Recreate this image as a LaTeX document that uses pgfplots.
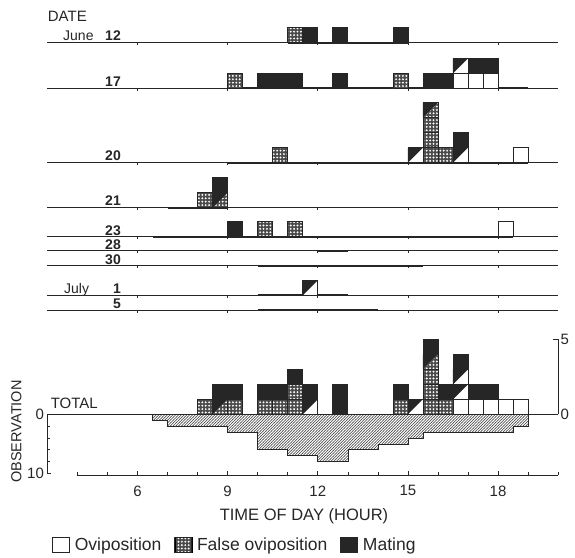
\documentclass[border=0pt]{standalone}
\usepackage{pgfplots}
\pgfplotsset{compat=1.18}
\usepackage{fontspec}
\setmainfont{Liberation Sans}
\usetikzlibrary{patterns}
\definecolor{ink}{HTML}{262626}
\definecolor{dgray}{HTML}{4a4a4a}

\pgfdeclarepatternformonly{cdots}{\pgfqpoint{-1pt}{-1pt}}{\pgfqpoint{4.4pt}{4.4pt}}{\pgfqpoint{3.4pt}{3.4pt}}{%
  \pgfpathcircle{\pgfqpoint{1.7pt}{1.7pt}}{1.05pt}\pgfusepath{fill}}
\pgfdeclarepatternformonly{hatchd}{\pgfqpoint{-0.5pt}{-0.5pt}}{\pgfqpoint{3.3pt}{3.3pt}}{\pgfqpoint{2.8pt}{2.8pt}}{%
  \pgfsetlinewidth{0.55pt}\pgfpathmoveto{\pgfqpoint{-0.2pt}{-0.2pt}}\pgfpathlineto{\pgfqpoint{3pt}{3pt}}\pgfusepath{stroke}}

\newcommand\cellbox{\pgfpathrectangle{\pgfqpoint{-7.5pt}{-7.5pt}}{\pgfqpoint{15pt}{15pt}}}
\newcommand\trilr{\pgfpathmoveto{\pgfqpoint{-7.5pt}{-7.5pt}}\pgfpathlineto{\pgfqpoint{7.5pt}{-7.5pt}}\pgfpathlineto{\pgfqpoint{7.5pt}{7.5pt}}\pgfpathclose}
\newcommand\triul{\pgfpathmoveto{\pgfqpoint{-7.5pt}{-7.5pt}}\pgfpathlineto{\pgfqpoint{-7.5pt}{7.5pt}}\pgfpathlineto{\pgfqpoint{7.5pt}{7.5pt}}\pgfpathclose}
\newcommand\celldots[1]{%
  \begin{pgfscope}#1\pgfsetfillcolor{dgray}\pgfusepath{fill}\end{pgfscope}%
  \begin{pgfscope}#1\pgfsetfillpattern{cdots}{white}\pgfusepath{fill}\end{pgfscope}}
\newcommand\cellsolid[2]{\begin{pgfscope}#1\pgfsetfillcolor{#2}\pgfusepath{fill}\end{pgfscope}}
\newcommand\cellframe{\begin{pgfscope}\pgfsetlinewidth{0.6pt}\pgfsetstrokecolor{ink}\cellbox\pgfusepath{stroke}\end{pgfscope}}

\pgfdeclareplotmark{cO}{\cellsolid{\cellbox}{white}\cellframe}
\pgfdeclareplotmark{cM}{\cellsolid{\cellbox}{ink}\cellframe}
\pgfdeclareplotmark{cD}{\celldots{\cellbox}\cellframe}
\pgfdeclareplotmark{cMD}{\celldots{\trilr}\cellsolid{\triul}{ink}\cellframe}
\pgfdeclareplotmark{cMO}{\cellsolid{\trilr}{white}\cellsolid{\triul}{ink}\cellframe}

\newcommand\cells[2]{\addplot[only marks, mark=#1] table[x expr=\thisrow{t}+0.25, y expr=\thisrow{n}-0.5, row sep=\\]{t n\\#2};}
\newcommand\obs[2]{\addplot[ink, line width=2pt] coordinates {(#1,0) (#2,0)};}

\pgfplotsset{
  /pgf/number format/assume math mode=true,
  every axis/.append style={clip=false, axis line style={ink, line width=0.6pt}, tick style={ink, line width=0.6pt},
    tick label style={font=\fontsize{15}{17}\selectfont, text=ink}},
  rowax/.style={anchor=south west, x=30.04pt, y=15pt, xmin=3, xmax=20, ymin=0, ymax=1,
    axis x line*=bottom, axis y line=none, xtick={6,9,12,15,18}, xticklabels={,,,,},
    xtick align=outside, major tick length=2.5pt},
}

\begin{document}
\begin{tikzpicture}
\useasboundingbox (0,0) rectangle (575pt,557pt);

% ---------- date rows ----------
\begin{axis}[rowax, at={(47.4pt,514.3pt)}]
  \obs{11}{15}
  \cells{cD}{11.0 1\\}
  \cells{cM}{11.5 1\\ 12.5 1\\ 14.5 1\\}
\end{axis}
\begin{axis}[rowax, at={(47.4pt,468.7pt)}]
  \obs{9}{19}
  \cells{cD}{9.0 1\\ 14.5 1\\}
  \cells{cM}{10.0 1\\ 10.5 1\\ 11.0 1\\ 12.5 1\\ 15.5 1\\ 16.0 1\\ 17.0 2\\ 17.5 2\\}
  \cells{cO}{16.5 1\\ 17.0 1\\ 17.5 1\\}
  \cells{cMO}{16.5 2\\}
\end{axis}
\begin{axis}[rowax, at={(47.4pt,394.3pt)}]
  \obs{9}{19}
  \cells{cD}{10.5 1\\ 15.5 1\\ 15.5 2\\ 15.5 3\\ 16.0 1\\}
  \cells{cMO}{15.0 1\\ 16.5 1\\}
  \cells{cMD}{15.5 4\\}
  \cells{cM}{16.5 2\\}
  \cells{cO}{18.5 1\\}
\end{axis}
\begin{axis}[rowax, at={(47.4pt,349.3pt)}]
  \obs{7}{9}
  \cells{cD}{8.0 1\\}
  \cells{cMD}{8.5 1\\}
  \cells{cM}{8.5 2\\}
\end{axis}
\begin{axis}[rowax, at={(47.4pt,320.3pt)}]
  \obs{6.5}{18.5}
  \cells{cM}{9.0 1\\}
  \cells{cD}{10.0 1\\ 11.0 1\\}
  \cells{cO}{18.0 1\\}
\end{axis}
\begin{axis}[rowax, at={(47.4pt,306.3pt)}]
  \obs{12}{13}
\end{axis}
\begin{axis}[rowax, at={(47.4pt,291.3pt)}]
  \obs{10}{15.5}
\end{axis}
\begin{axis}[rowax, at={(47.4pt,261.7pt)}]
  \obs{10}{13}
  \cells{cMO}{11.5 1\\}
\end{axis}
\begin{axis}[rowax, at={(47.4pt,246.7pt)}]
  \obs{10}{14}
\end{axis}

% ---------- total: events ----------
\begin{axis}[anchor=south west, at={(47.4pt,142.7pt)}, x=30.04pt, y=15pt,
  xmin=3, xmax=20, ymin=0, ymax=5, axis x line*=bottom, axis y line*=right,
  xtick=\empty, ytick={0,5}, ytick align=inside, major tick length=5pt,
  yticklabel style={xshift=-1pt}]
  \cells{cD}{8.0 1\\ 9.0 1\\ 10.0 1\\ 10.5 1\\ 11.0 1\\ 11.0 2\\ 14.5 1\\ 15.5 1\\ 15.5 2\\ 15.5 3\\ 16.0 1\\}
  \cells{cM}{8.5 2\\ 9.0 2\\ 10.0 2\\ 10.5 2\\ 11.0 3\\ 11.5 2\\ 12.5 1\\ 12.5 2\\ 14.5 2\\ 15.5 5\\ 16.0 2\\ 16.5 4\\ 17.0 2\\ 17.5 2\\}
  \cells{cMD}{8.5 1\\ 15.5 4\\}
  \cells{cMO}{11.5 1\\ 15.0 1\\ 16.5 2\\ 16.5 3\\}
  \cells{cO}{16.5 1\\ 17.0 1\\ 17.5 1\\ 18.0 1\\ 18.5 1\\}
\end{axis}

% ---------- total: days observed ----------
\begin{axis}[anchor=north west, at={(47.4pt,142.7pt)}, x=30.04pt, y=5.9pt,
  xmin=3, xmax=20, ymin=0, ymax=10, y dir=reverse, axis x line=none, axis y line*=left,
  ytick={0,10}, minor ytick={2,4,6,8}, ytick align=inside, major tick length=4pt, minor tick length=2.5pt]
  \addplot[const plot, draw=ink, line width=0.6pt, pattern=hatchd, pattern color=black!75]
    coordinates {(6.5,1) (7,2) (9,3) (10,6) (11,7) (12,8) (13,6) (14,5) (15,4) (15.5,3) (18.5,2) (19,2)} \closedcycle;
\end{axis}

% ---------- time axis + legend ----------
\begin{axis}[anchor=south west, at={(77.44pt,82pt)}, x=30.04pt, y=10pt,
  xmin=4, xmax=20, ymin=0, ymax=1, axis x line*=bottom, axis y line=none,
  xtick={6,9,12,15,18}, minor xtick={4,5,7,8,10,11,13,14,16,17,19,20},
  xtick align=inside, major tick length=4pt, minor tick length=3pt,
  xticklabel style={yshift=-7pt},
  legend columns=3,
  legend style={draw=none, fill=none, at={(-0.059,-7.0)}, anchor=west,
    font=\fontsize{17.5}{19}\selectfont, text=ink,
    /tikz/every odd column/.append style={column sep=3pt},
    /tikz/every even column/.append style={column sep=11pt}},
  legend cell align=left]
  \addlegendimage{legend image code/.code={\draw[ink, line width=0.6pt, fill=white] (0pt,-7.5pt) rectangle (17pt,7.5pt);}}
  \addlegendentry{Oviposition}
  \addlegendimage{legend image code/.code={\fill[dgray] (0pt,-7.5pt) rectangle (17pt,7.5pt);
     \fill[pattern=cdots, pattern color=white] (0pt,-7.5pt) rectangle (17pt,7.5pt);
     \draw[ink, line width=0.6pt] (0pt,-7.5pt) rectangle (17pt,7.5pt);}}
  \addlegendentry{False oviposition}
  \addlegendimage{legend image code/.code={\draw[ink, line width=0.6pt, fill=ink] (0pt,-7.5pt) rectangle (17pt,7.5pt);}}
  \addlegendentry{Mating}
\end{axis}

% ---------- text ----------
\begin{scope}[every node/.style={text=ink, inner sep=0pt}]
\node[anchor=base west, font=\fontsize{15}{17}\selectfont] at (47.7pt,535pt) {DATE};
\node[anchor=base west, font=\fontsize{14}{16}\selectfont] at (63pt,516.3pt) {June};
\node[anchor=base east, font=\fontsize{14}{16}\selectfont\bfseries] at (121pt,516.3pt) {12};
\node[anchor=base east, font=\fontsize{14}{16}\selectfont\bfseries] at (121pt,470.7pt) {17};
\node[anchor=base east, font=\fontsize{14}{16}\selectfont\bfseries] at (121pt,396.3pt) {20};
\node[anchor=base east, font=\fontsize{14}{16}\selectfont\bfseries] at (121pt,351.3pt) {21};
\node[anchor=base east, font=\fontsize{14}{16}\selectfont\bfseries] at (121pt,321.8pt) {23};
\node[anchor=base east, font=\fontsize{14}{16}\selectfont\bfseries] at (121pt,307.8pt) {28};
\node[anchor=base east, font=\fontsize{14}{16}\selectfont\bfseries] at (121pt,292.8pt) {30};
\node[anchor=base west, font=\fontsize{14}{16}\selectfont] at (64pt,263.7pt) {July};
\node[anchor=base east, font=\fontsize{14}{16}\selectfont\bfseries] at (121pt,263.7pt) {1};
\node[anchor=base east, font=\fontsize{14}{16}\selectfont\bfseries] at (121pt,248.7pt) {5};
\node[anchor=base west, font=\fontsize{15}{17}\selectfont] at (50.6pt,149pt) {TOTAL};
\node[rotate=90, font=\fontsize{14.5}{16}\selectfont] at (16.5pt,125.5pt) {OBSERVATION};
\node[font=\fontsize{16.5}{18}\selectfont] at (304pt,41pt) {TIME OF DAY (HOUR)};
\end{scope}
\end{tikzpicture}
\end{document}
